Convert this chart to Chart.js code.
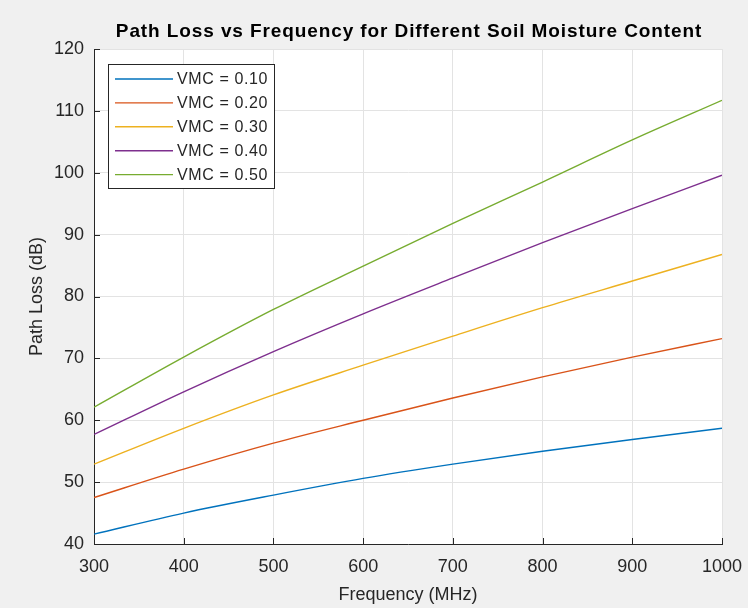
<!DOCTYPE html>
<html>
<head>
<meta charset="utf-8">
<script src="https://cdn.jsdelivr.net/npm/chart.js@4/dist/chart.umd.min.js"></script>
<style>
  html, body { margin: 0; padding: 0; background: #f0f0f0; }
  #wrap { width: 748px; height: 608px; }
</style>
</head>
<body>
<div id="wrap"><canvas id="lossChart" width="748" height="608"></canvas></div>
<script>
// frequency points (MHz) and path loss (dB)
const freqMHz = [300, 400, 500, 600, 700, 800, 900, 1000];
const vmcLabels = ["VMC = 0.10", "VMC = 0.20", "VMC = 0.30", "VMC = 0.40", "VMC = 0.50"];
const loss010 = [41.6, 45.0, 47.9, 50.6, 52.9, 55.0, 56.9, 58.7];
const loss020 = [47.5, 52.1, 56.3, 60.0, 63.6, 67.0, 70.2, 73.2];
const loss030 = [52.9, 58.7, 64.1, 68.9, 73.6, 78.2, 82.5, 86.8];
const loss040 = [57.7, 64.6, 71.1, 77.2, 83.0, 88.7, 94.2, 99.6];
const loss050 = [62.1, 70.2, 77.9, 84.9, 91.8, 98.5, 105.3, 111.7];

const chartTitle = "Path Loss vs Frequency for Different Soil Moisture Content";
const lineColors = ["#0072BD", "#D95319", "#EDB120", "#7E2F8E", "#77AC30"];
const axisColor = "#262626";
const fontFamily = "'Liberation Sans', Arial, Helvetica, sans-serif";

const allLoss = [loss010, loss020, loss030, loss040, loss050];

const datasets = allLoss.map((vals, i) => ({
    label: vmcLabels[i],
    data: freqMHz.map((f, j) => ({x: f, y: vals[j]})),
    borderColor: lineColors[i],
    backgroundColor: lineColors[i],
    borderWidth: 1.4,
    pointRadius: 0,
    cubicInterpolationMode: "monotone",
    fill: false
}));

// grey figure background with a white axes box
const backdrop = {
    id: "backdrop",
    beforeDraw(chart) {
        const {ctx, chartArea: a} = chart;
        ctx.save();
        ctx.fillStyle = "#f0f0f0";
        ctx.fillRect(0, 0, chart.width, chart.height);
        ctx.fillStyle = "#ffffff";
        ctx.fillRect(a.left, a.top, a.right - a.left, a.bottom - a.top);
        ctx.restore();
    }
};

// matlab style tick marks pointing into the plot
const innerTicks = {
    id: "innerTicks",
    beforeDatasetsDraw(chart) {
        const {ctx, chartArea: a, scales} = chart;
        ctx.save();
        ctx.strokeStyle = axisColor;
        ctx.lineWidth = 1;
        ctx.beginPath();
        scales.x.ticks.forEach(t => {
            const px = Math.round(scales.x.getPixelForValue(t.value)) + 0.5;
            ctx.moveTo(px, a.bottom);
            ctx.lineTo(px, a.bottom - 6);
        });
        scales.y.ticks.forEach(t => {
            const py = Math.round(scales.y.getPixelForValue(t.value)) + 0.5;
            ctx.moveTo(a.left, py);
            ctx.lineTo(a.left + 6, py);
        });
        ctx.stroke();
        ctx.restore();
    }
};

// boxed legend in the upper left corner of the axes
const boxLegend = {
    id: "boxLegend",
    afterDatasetsDraw(chart) {
        const {ctx, chartArea: a} = chart;
        const left = a.left + 14, top = a.top + 15;
        const w = 166, h = 124, rowH = 23.9;
        ctx.save();
        ctx.fillStyle = "#ffffff";
        ctx.fillRect(left, top, w, h);
        ctx.strokeStyle = axisColor;
        ctx.lineWidth = 1;
        ctx.strokeRect(left + 0.5, top + 0.5, w, h);
        ctx.font = "16px " + fontFamily;
        ctx.letterSpacing = "0.6px";
        ctx.textBaseline = "middle";
        ctx.fillStyle = axisColor;
        chart.data.datasets.forEach((ds, i) => {
            const y = top + 15 + i * rowH;
            ctx.strokeStyle = ds.borderColor;
            ctx.lineWidth = 1.4;
            ctx.beginPath();
            ctx.moveTo(left + 7, y);
            ctx.lineTo(left + 65, y);
            ctx.stroke();
            ctx.fillText(ds.label, left + 69, y + 1);
        });
        ctx.restore();
    }
};

// bold title centred over the axes
const axesTitle = {
    id: "axesTitle",
    afterDraw(chart) {
        const {ctx, chartArea: a} = chart;
        ctx.save();
        ctx.font = "bold 19px " + fontFamily;
        ctx.letterSpacing = "0.9px";
        ctx.fillStyle = "#000000";
        ctx.textAlign = "center";
        ctx.textBaseline = "middle";
        ctx.fillText(chartTitle, (a.left + a.right) / 2 + 1, 32);
        ctx.restore();
    }
};

new Chart(document.getElementById("lossChart").getContext("2d"), {
    type: "line",
    data: { datasets: datasets },
    plugins: [backdrop, innerTicks, boxLegend, axesTitle],
    options: {
        responsive: false,
        animation: false,
        layout: { padding: { top: 49, right: 26, left: 0, bottom: 0 } },
        plugins: {
            legend: { display: false },
            title: { display: false },
            tooltip: { enabled: false }
        },
        scales: {
            x: {
                type: "linear",
                min: 300,
                max: 1000,
                afterFit: s => {
                    s.height = 64;
                    s.paddingLeft = 0;
                    s.paddingRight = 0;
                },
                grid: { color: "#e3e3e3", drawTicks: false },
                border: { color: axisColor, width: 1 },
                ticks: {
                    stepSize: 100,
                    padding: 12,
                    color: axisColor,
                    font: { family: fontFamily, size: 18 },
                    maxRotation: 0,
                    callback: v => String(v)
                },
                title: {
                    display: true,
                    text: "Frequency (MHz)",
                    color: axisColor,
                    font: { family: fontFamily, size: 18 },
                    padding: { top: 0, bottom: 2 }
                }
            },
            y: {
                min: 40,
                max: 120,
                afterFit: s => {
                    s.width = 94;
                    s.paddingTop = 0;
                    s.paddingBottom = 0;
                },
                grid: { color: "#e3e3e3", drawTicks: false },
                border: { color: axisColor, width: 1 },
                ticks: {
                    stepSize: 10,
                    padding: 10,
                    color: axisColor,
                    font: { family: fontFamily, size: 18 },
                    callback: v => String(v)
                },
                title: {
                    display: true,
                    text: "Path Loss (dB)",
                    color: axisColor,
                    font: { family: fontFamily, size: 18 },
                    padding: { top: 26, bottom: 0 }
                }
            }
        }
    }
});
</script>
</body>
</html>
